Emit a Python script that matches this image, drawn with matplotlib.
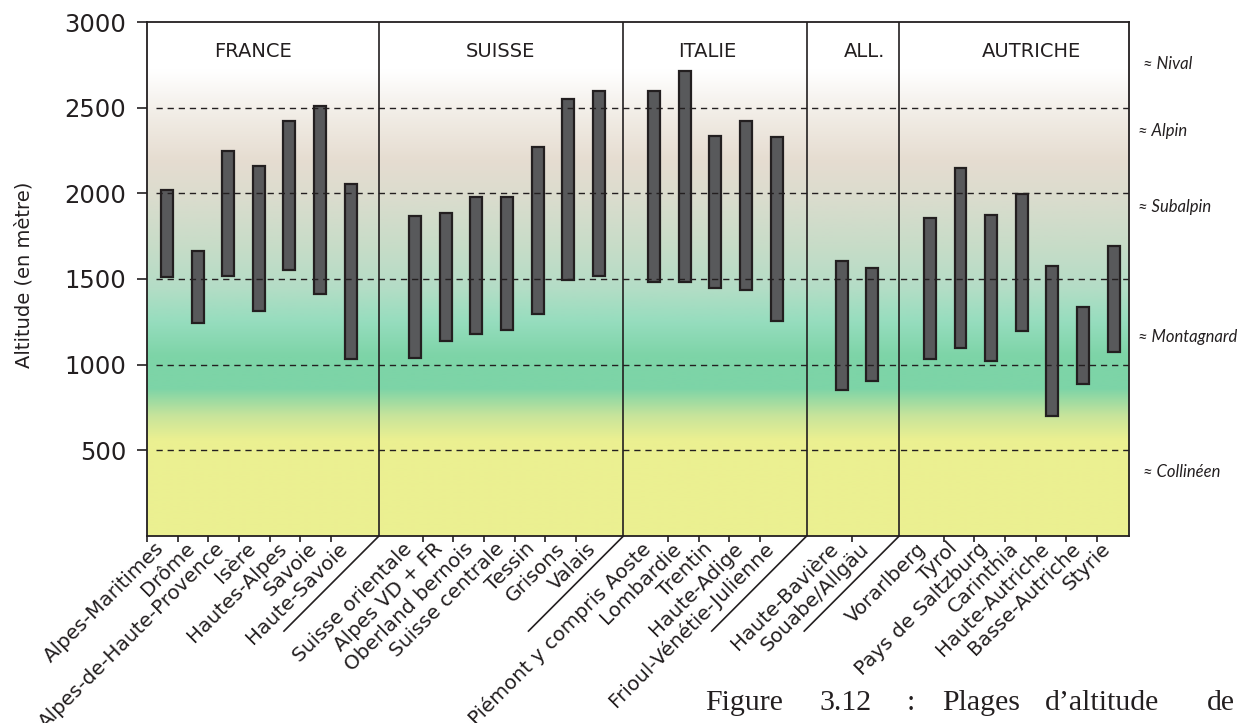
import numpy as np
import matplotlib
matplotlib.use("Agg")
import matplotlib.pyplot as plt
from matplotlib import transforms


# Plages d'altitude par region (en metre)
FRANCE = ["Alpes-Maritimes", "Drôme", "Alpes-de-Haute-Provence", "Isère",
          "Hautes-Alpes", "Savoie", "Haute-Savoie"]
FRANCE_LOW = [1510, 1245, 1520, 1315, 1550, 1410, 1035]
FRANCE_HIGH = [2020, 1665, 2250, 2160, 2425, 2510, 2055]

SUISSE = ["Suisse orientale", "Alpes VD + FR", "Oberland bernois", "Suisse centrale",
          "Tessin", "Grisons", "Valais"]
SUISSE_LOW = [1040, 1140, 1180, 1200, 1295, 1495, 1515]
SUISSE_HIGH = [1865, 1885, 1980, 1980, 2270, 2550, 2600]

ITALIE = ["Piémont y compris Aoste", "Lombardie", "Trentin", "Haute-Adige",
          "Frioul-Vénétie-Julienne"]
ITALIE_LOW = [1485, 1480, 1445, 1435, 1255]
ITALIE_HIGH = [2595, 2715, 2335, 2420, 2330]

ALLEMAGNE = ["Haute-Bavière", "Souabe/Allgäu"]
ALLEMAGNE_LOW = [850, 905]
ALLEMAGNE_HIGH = [1605, 1565]

AUTRICHE = ["Vorarlberg", "Tyrol", "Pays de Saltzburg", "Carinthia",
            "Haute-Autriche", "Basse-Autriche", "Styrie"]
AUTRICHE_LOW = [1035, 1100, 1020, 1195, 700, 885, 1075]
AUTRICHE_HIGH = [1855, 2145, 1875, 1995, 1575, 1335, 1690]

COUNTRIES = ["FRANCE", "SUISSE", "ITALIE", "ALL.", "AUTRICHE"]
LEVELS = [500, 1000, 1500, 2000, 2500]
YTICKS = [500, 1000, 1500, 2000, 2500, 3000]
ZONES = ["≈ Nival", "≈ Alpin", "≈ Subalpin", "≈ Montagnard", "≈ Collinéen"]
CAPTION = ["Figure", "3.12", ":", "Plages", "d’altitude", "de"]

# mise en page (unites = emplacement de categorie)
GROUP_START = [0.65, 8.75, 16.55, 22.67, 25.55]
SEPARATORS = [7.57, 15.55, 21.53, 24.55]
COUNTRY_X = [3.46, 11.55, 18.28, 23.43, 28.88]
ZONE_Y = [2757, 2366, 1922, 1164, 376]
ZONE_X = [32.5, 32.35, 32.35, 32.35, 32.5]
CAPTION_PX = [705, 819, 907, 942, 1045, 1207]
XMAX = 32.05
INK = "#231f20"

# fond degrade selon l'altitude
GRAD_ALT = [0, 560, 700, 860, 1050, 1250, 1450, 1700, 2000, 2200, 2450, 2600, 2720, 3000]
GRAD_RGB = [(235, 240, 145), (235, 240, 145), (200, 228, 155), (125, 212, 167),
            (125, 212, 167), (150, 221, 190), (180, 221, 198), (200, 220, 200),
            (220, 220, 206), (230, 221, 209), (241, 236, 229), (249, 247, 244),
            (255, 255, 255), (255, 255, 255)]

groups = [
    (FRANCE, FRANCE_LOW, FRANCE_HIGH),
    (SUISSE, SUISSE_LOW, SUISSE_HIGH),
    (ITALIE, ITALIE_LOW, ITALIE_HIGH),
    (ALLEMAGNE, ALLEMAGNE_LOW, ALLEMAGNE_HIGH),
    (AUTRICHE, AUTRICHE_LOW, AUTRICHE_HIGH),
]

fig = plt.figure(figsize=(12.37, 7.23), dpi=100)
ax = fig.add_axes([147 / 1237, 1 - 536 / 723, (1129 - 147) / 1237, (536 - 22) / 723])

alt = np.linspace(0, 3000, 600)
rgb = np.stack([np.interp(alt, GRAD_ALT, [c[i] for c in GRAD_RGB]) for i in range(3)], axis=1) / 255
ax.imshow(rgb[:, None, :], extent=[0, XMAX, 0, 3000], origin="lower", aspect="auto",
          interpolation="bilinear", zorder=0)

positions, labels, minor = [], [], [0]
for (names, low, high), start in zip(groups, GROUP_START):
    x = [start + i for i in range(len(names))]
    ax.bar(x, np.array(high) - np.array(low), bottom=low, width=0.39,
           color="#58595b", edgecolor=INK, linewidth=1.6, zorder=3)
    positions += [p - 0.2 for p in x]
    labels += names
    minor += [int(start) + 1 + i for i in range(len(names) - 1)]

ax.hlines(LEVELS, 0.3, XMAX, colors=INK, linestyles=(0, (4.5, 3.5)), linewidth=1.0, zorder=4)

trans = transforms.blended_transform_factory(ax.transData, ax.transAxes)
for sep in SEPARATORS:
    ax.axvline(sep, color=INK, linewidth=1.2, zorder=5)
    ax.plot([sep, sep - 3.1], [0, -0.185], color=INK, linewidth=1.2,
            transform=trans, clip_on=False)

for name, cx in zip(COUNTRIES, COUNTRY_X):
    ax.text(cx, 2827, name, ha="center", va="center", fontsize=14, color=INK, zorder=6)

for zone, zx, zy in zip(ZONES, ZONE_X, ZONE_Y):
    ax.text(zx, zy, zone, ha="left", va="center", fontsize=12, style="italic",
            family=["Lato", "DejaVu Sans"], color=INK, clip_on=False)

ax.set_xlim(0, XMAX)
ax.set_ylim(0, 3000)
ax.set_yticks(YTICKS)
ax.tick_params(axis="y", labelsize=17.5, length=7, width=1.2, pad=8, colors=INK)
ax.set_xticks(positions, labels)
ax.set_xticks(minor, minor=True)
ax.tick_params(axis="x", which="major", length=0, pad=7, labelsize=14.4, colors=INK)
ax.tick_params(axis="x", which="minor", length=4.5, width=1.2, color=INK)
for lab in ax.get_xticklabels():
    lab.set_rotation(45)
    lab.set_ha("right")
    lab.set_va("center")
    lab.set_rotation_mode("anchor")

for spine in ax.spines.values():
    spine.set_color(INK)
    spine.set_linewidth(1.3)
    spine.set_zorder(6)

fig.text(24 / 1237, 1 - 275 / 723, "Altitude (en mètre)", rotation=90, ha="center",
         va="center", fontsize=14, color=INK)

for word, px in zip(CAPTION, CAPTION_PX):
    fig.text(px / 1237, 1 - 710 / 723, word, ha="left", va="baseline",
             fontsize=21.5, family="Liberation Serif", color=INK)

fig.savefig("out.png", dpi=100)
